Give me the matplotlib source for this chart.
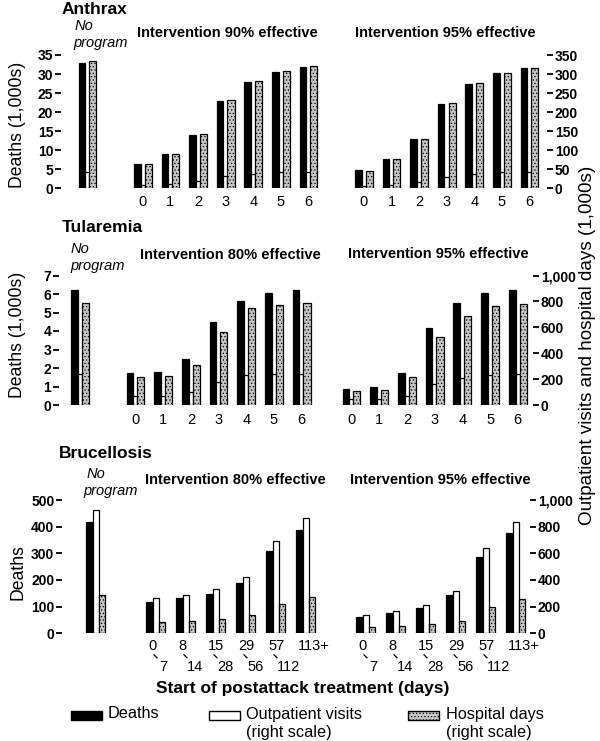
import numpy as np
import matplotlib
matplotlib.use('Agg')
import matplotlib.pyplot as plt
from matplotlib.patches import Rectangle
from matplotlib.lines import Line2D
from matplotlib.transforms import IdentityTransform

plt.rcParams['font.family'] = ['Liberation Sans', 'DejaVu Sans']
plt.rcParams['hatch.linewidth'] = 0.5

# ---------------- data ----------------
days_labels = ['0', '1', '2', '3', '4', '5', '6']

# Anthrax (deaths in 1,000s on left; outpatient visits / hospital days in 1,000s on right)
anthrax_deaths_noprog = 33.0
anthrax_outpt_noprog = 44
anthrax_hosp_noprog = 334
anthrax_deaths_90 = [6.3, 9.0, 14.0, 23.0, 27.9, 30.5, 31.8]
anthrax_outpt_90 = [9, 11, 19, 31, 38, 42, 43]
anthrax_hosp_90 = [64, 90, 143, 232, 283, 308, 321]
anthrax_deaths_95 = [4.8, 7.6, 13.0, 22.1, 27.4, 30.2, 31.5]
anthrax_outpt_95 = [6, 9, 16, 29, 37, 42, 43]
anthrax_hosp_95 = [46, 76, 130, 224, 276, 303, 317]

# Tularemia
tul_deaths_noprog = 6.22
tul_outpt_noprog = 243
tul_hosp_noprog = 786
tul_deaths_80 = [1.73, 1.79, 2.46, 4.5, 5.6, 6.05, 6.2]
tul_outpt_80 = [69, 71, 104, 179, 229, 237, 243]
tul_hosp_80 = [217, 226, 312, 566, 749, 769, 786]
tul_deaths_95 = [0.88, 0.96, 1.73, 4.15, 5.5, 6.05, 6.2]
tul_outpt_95 = [43, 50, 70, 160, 208, 235, 240]
tul_hosp_95 = [110, 117, 218, 526, 688, 765, 782]

# Brucellosis (deaths on left; outpatient / hospital days in 1,000s on right)
bru_top_labels = ['0', '8', '15', '29', '57', '113+']
bru_bottom_labels = ['7', '14', '28', '56', '112', '']
bru_deaths_noprog = 419
bru_outpt_noprog = 924
bru_hosp_noprog = 288
bru_deaths_80 = [119, 131, 147, 190, 310, 387]
bru_outpt_80 = [262, 288, 330, 420, 692, 862]
bru_hosp_80 = [82, 92, 104, 138, 218, 274]
bru_deaths_95 = [61, 76, 95, 142, 287, 378]
bru_outpt_95 = [134, 166, 214, 320, 638, 838]
bru_hosp_95 = [44, 54, 68, 96, 200, 260]

# ---------------- layout helpers ----------------
W, H = 600, 741
fig = plt.figure(figsize=(W / 100, H / 100), dpi=100)
GRAY = '#c6c6c6'


def fx(p):
    return p / W


def fy(p):
    return 1 - p / H


def make_axes(l, r, t, b, xlim, ylim, rylim):
    ax = fig.add_axes([fx(l), fy(b), (r - l) / W, (b - t) / H])
    ax.set_xlim(*xlim)
    ax.set_ylim(*ylim)
    ax2 = ax.twinx()
    ax2.set_ylim(*rylim)
    for a in (ax, ax2):
        for s in a.spines.values():
            s.set_visible(False)
        a.patch.set_visible(False)
        a.tick_params(axis='y', direction='out', length=4, width=1.3, pad=1.5)
    return ax, ax2


def draw(ax, ax2, pos, deaths, outp, hosp, offs, widths):
    pos = np.asarray(pos, dtype=float)
    ax.bar(pos + offs[0], deaths, widths[0], color='black', edgecolor='black', lw=0.9)
    ax2.bar(pos + offs[1], outp, widths[1], color='white', edgecolor='black', lw=0.9)
    ax2.bar(pos + offs[2], hosp, widths[2], color=GRAY, edgecolor='black', lw=0.9,
            hatch='.....')


def yticks(ax, ticks, labels):
    ax.set_yticks(ticks)
    ax.set_yticklabels(labels, fontsize=10, fontweight='bold')


offs_a = (-0.20, -0.0075, 0.1925)
wid_a = (0.24, 0.145, 0.255)

# ---------------- Anthrax ----------------
ax, ax2 = make_axes(61, 547, 55, 188.3, (-0.96, 16.63), (0, 35), (0, 350))
posA = [2 + i for i in range(7)]
posB = [10 + i for i in range(7)]
draw(ax, ax2, [0], [anthrax_deaths_noprog], [anthrax_outpt_noprog], [anthrax_hosp_noprog], offs_a, wid_a)
draw(ax, ax2, posA, anthrax_deaths_90, anthrax_outpt_90, anthrax_hosp_90, offs_a, wid_a)
draw(ax, ax2, posB, anthrax_deaths_95, anthrax_outpt_95, anthrax_hosp_95, offs_a, wid_a)
yticks(ax, range(0, 36, 5), [str(v) for v in range(0, 36, 5)])
yticks(ax2, range(0, 351, 50), [str(v) for v in range(0, 351, 50)])
ax.set_xticks(posA + posB)
ax.set_xticklabels(days_labels + days_labels, fontsize=10.5)
ax.tick_params(axis='x', length=0, pad=4.5)

# ---------------- Tularemia ----------------
ax, ax2 = make_axes(59, 533, 275.5, 405, (-0.758, 16.35), (0, 7), (0, 1000))
posA = [2 + i for i in range(7)]
posB = [9.8 + i for i in range(7)]
draw(ax, ax2, [0], [tul_deaths_noprog], [tul_outpt_noprog], [tul_hosp_noprog], offs_a, wid_a)
draw(ax, ax2, posA, tul_deaths_80, tul_outpt_80, tul_hosp_80, offs_a, wid_a)
draw(ax, ax2, posB, tul_deaths_95, tul_outpt_95, tul_hosp_95, offs_a, wid_a)
yticks(ax, range(0, 8), [str(v) for v in range(0, 8)])
yticks(ax2, range(0, 1001, 200), ['0', '200', '400', '600', '800', '1,000'])
ax.set_xticks(posA + posB)
ax.set_xticklabels(days_labels + days_labels, fontsize=10.5)
ax.tick_params(axis='x', length=0, pad=6)

# ---------------- Brucellosis ----------------
offs_b = (-0.215, 0.0, 0.212)
wid_b = (0.215, 0.215, 0.2)
ax, ax2 = make_axes(62, 530, 500, 633.3, (-1.133, 14.467), (0, 500), (0, 1000))
posA = [2 + i for i in range(6)]
posB = [9 + i for i in range(6)]
draw(ax, ax2, [0], [bru_deaths_noprog], [bru_outpt_noprog], [bru_hosp_noprog], offs_b, wid_b)
draw(ax, ax2, posA, bru_deaths_80, bru_outpt_80, bru_hosp_80, offs_b, wid_b)
draw(ax, ax2, posB, bru_deaths_95, bru_outpt_95, bru_hosp_95, offs_b, wid_b)
yticks(ax, range(0, 501, 100), [str(v) for v in range(0, 501, 100)])
yticks(ax2, range(0, 1001, 200), ['0', '200', '400', '600', '800', '1,000'])
ax.set_xticks([])
xt = ax.get_xaxis_transform()
for p, top, bot in zip(posA + posB, bru_top_labels * 2, bru_bottom_labels * 2):
    ax.annotate(top, xy=(p, 0), xycoords=xt, xytext=(-8, -(646 - 633.3)),
                textcoords='offset pixels', ha='left', va='center', fontsize=10.5)
    if bot:
        ax.annotate(bot, xy=(p, 0), xycoords=xt, xytext=(1 if len(bot) > 1 else 3, -(667 - 633.3)),
                    textcoords='offset pixels', ha='left', va='center', fontsize=10.5)
        # small slanted dash between the two numbers of the range
        x0, y0 = ax.transData.transform((p, 0))
        y0 = H - 633.3
        fig.add_artist(Line2D([x0 - 2, x0 + 1], [y0 - 21.5, y0 - 24.5],
                              transform=IdentityTransform(), color='black', lw=0.9))

# ---------------- texts ----------------
def ftext(x, y, s, **kw):
    fig.text(fx(x), fy(y), s, **kw)

ftext(62, 9, 'Anthrax', fontsize=12.5, fontweight='bold', va='center', ha='left')
ftext(62, 228, 'Tularemia', fontsize=12.5, fontweight='bold', va='center', ha='left')
ftext(59, 454, 'Brucellosis', fontsize=12.5, fontweight='bold', va='center', ha='left')

for (xn, yn, xp, yp) in [(75, 26.5, 73, 43), (71, 249, 70, 266), (87, 474, 83, 491)]:
    ftext(xn, yn, 'No', fontsize=10.5, style='italic', va='center', ha='left')
    ftext(xp, yp, 'program', fontsize=10.5, style='italic', va='center', ha='left')

ftext(137, 33, 'Intervention 90% effective', fontsize=10.5, fontweight='bold', va='center')
ftext(355, 33, 'Intervention 95% effective', fontsize=10.5, fontweight='bold', va='center')
ftext(140, 255, 'Intervention 80% effective', fontsize=10.5, fontweight='bold', va='center')
ftext(348, 254, 'Intervention 95% effective', fontsize=10.5, fontweight='bold', va='center')
ftext(145, 480, 'Intervention 80% effective', fontsize=10.5, fontweight='bold', va='center')
ftext(350, 480, 'Intervention 95% effective', fontsize=10.5, fontweight='bold', va='center')

ftext(18, 125, 'Deaths (1,000s)', fontsize=12.7, rotation=90, ha='center', va='center')
ftext(18, 335, 'Deaths (1,000s)', fontsize=12.7, rotation=90, ha='center', va='center')
ftext(18, 572, 'Deaths', fontsize=12.7, rotation=90, ha='center', va='center')
ftext(588, 345, 'Outpatient visits and hospital days (1,000s)', fontsize=13.6,
      rotation=90, ha='center', va='center')

ftext(303, 688, 'Start of postattack treatment (days)', fontsize=12.5, fontweight='bold',
      ha='center', va='center')

# ---------------- legend ----------------
for (x0, fc, hatch) in [(71, 'black', None), (209, 'white', None), (408, GRAY, '.....')]:
    fig.add_artist(Rectangle((fx(x0), fy(720)), 31 / W, 9 / H, transform=fig.transFigure,
                             facecolor=fc, edgecolor='black', lw=1, hatch=hatch))
ftext(108, 714, 'Deaths', fontsize=11.7, va='center', ha='left')
ftext(246, 714, 'Outpatient visits', fontsize=11.7, va='center', ha='left')
ftext(246, 732, '(right scale)', fontsize=11.7, va='center', ha='left')
ftext(446, 714, 'Hospital days', fontsize=11.7, va='center', ha='left')
ftext(446, 732, '(right scale)', fontsize=11.7, va='center', ha='left')

fig.savefig('out.png', dpi=100)
